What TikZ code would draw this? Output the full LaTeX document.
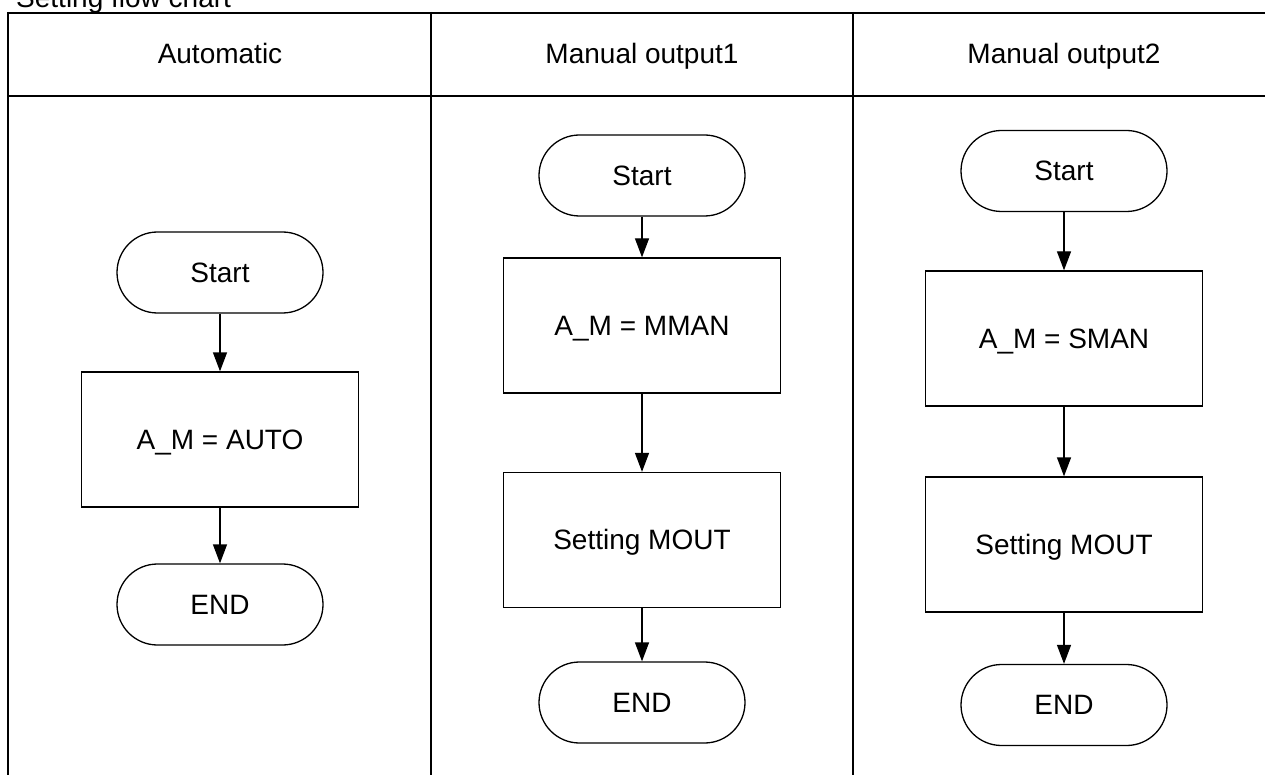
\documentclass[tikz,border=0pt]{standalone}
\usepackage{fontspec}
\setmainfont{Liberation Sans}
\usetikzlibrary{arrows.meta}
\begin{document}
\begin{tikzpicture}[x=1pt,y=-1pt,
  every node/.style={font=\fontsize{28}{32}\selectfont, text=black},
  txt/.style={text height=19.5pt, text depth=0pt, inner sep=0pt},
  grid/.style={line width=2pt, black},
  term/.style={draw, line width=1.3pt, rounded corners=40.5pt,
    minimum width=206pt, minimum height=81pt, txt},
  proc/.style={draw, line width=1.3pt,
    minimum width=277pt, minimum height=135pt, txt},
  flow/.style={line width=1.3pt, -{Triangle[length=19pt,width=14pt]}},
]
\useasboundingbox (0,0) rectangle (1265,775);

% caption (partly above the page edge)
\node[anchor=base west, inner sep=0pt] (title) at (16,8) {Setting flow chart};

% table frame, open at the right and bottom
\draw[grid] (8,13) -- (1270,13);
\draw[grid] (8,96) -- (1270,96);
\draw[grid] (8,12) -- (8,780);
\draw[grid] (431,12) -- (431,780);
\draw[grid] (853,12) -- (853,780);

% column headings
\node[txt] (h1) at (220,54) {Automatic};
\node[txt] (h2) at (642,54) {Manual output1};
\node[txt] (h3) at (1064,54) {Manual output2};

% Automatic
\node[term] (a1) at (220,272.5) {Start};
\node[proc] (a2) at (220,439.5) {A\_M = AUTO};
\node[term] (a3) at (220,604.5) {END};
\draw[flow] (a1) -- (a2);
\draw[flow] (a2) -- (a3);

% Manual output1
\node[term] (m1) at (642,175.5) {Start};
\node[proc] (m2) at (642,325.5) {A\_M = MMAN};
\node[proc] (m3) at (642,540) {Setting MOUT};
\node[term] (m4) at (642,702.5) {END};
\draw[flow] (m1) -- (m2);
\draw[flow] (m2) -- (m3);
\draw[flow] (m3) -- (m4);

% Manual output2
\node[term] (n1) at (1064,171) {Start};
\node[proc] (n2) at (1064,338.5) {A\_M = SMAN};
\node[proc] (n3) at (1064,544.5) {Setting MOUT};
\node[term] (n4) at (1064,705) {END};
\draw[flow] (n1) -- (n2);
\draw[flow] (n2) -- (n3);
\draw[flow] (n3) -- (n4);
\end{tikzpicture}
\end{document}
